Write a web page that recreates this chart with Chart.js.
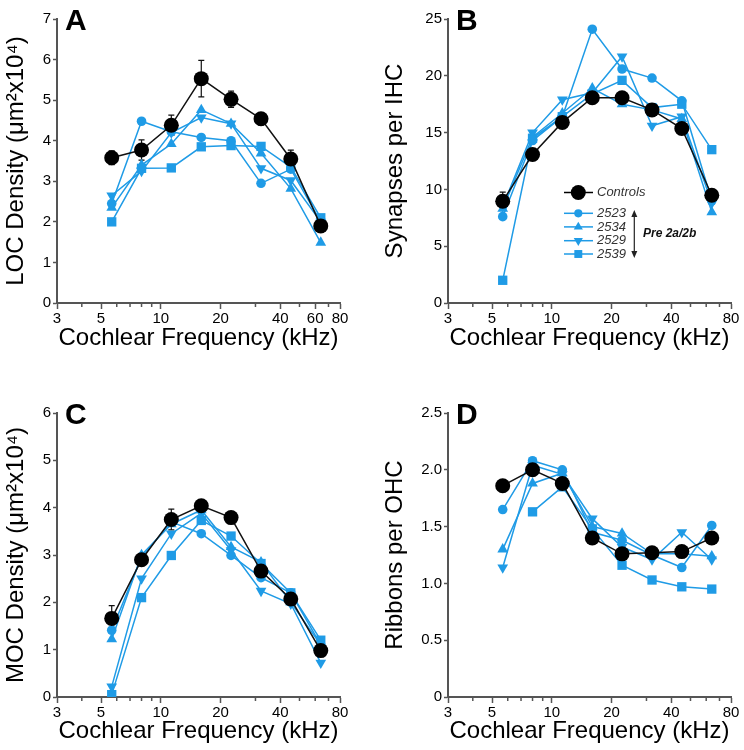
<!DOCTYPE html>
<html>
<head>
<meta charset="utf-8">
<script src="https://cdn.jsdelivr.net/npm/chart.js@4"></script>
<style>
  body { margin: 0; background: #fff; }
  canvas { position: absolute; }
</style>
</head>
<body>
<canvas id="chartA" width="372" height="375" style="left:0;top:0"></canvas>
<canvas id="chartB" width="372" height="375" style="left:372px;top:0"></canvas>
<canvas id="chartC" width="372" height="375" style="left:0;top:375px"></canvas>
<canvas id="chartD" width="372" height="375" style="left:372px;top:375px"></canvas>
<script>
// cochlear frequencies (kHz), half-octave steps
const freqs = [5.66, 8, 11.3, 16, 22.6, 32, 45.2, 64];
const animals = ['2523', '2534', '2529', '2539'];
const minorTicks = [4, 6, 7, 8, 9, 30, 50, 60, 70];

// A: LOC density
const locControls = [3.58, 3.77, 4.38, 5.53, 5.02, 4.54, 3.55, 1.9];
const locErr = [0.17, 0.25, 0.25, 0.45, 0.2, 0.15, 0.22, 0.1];
const loc2523 = [2.45, 4.48, 4.22, 4.08, 4.0, 2.95, 3.3, 2.0];
const loc2534 = [2.35, 3.4, 3.92, 4.76, 4.42, 3.69, 2.82, 1.49];
const loc2529 = [2.65, 3.25, 4.2, 4.57, 4.42, 3.32, 3.02, 2.0];
const loc2539 = [2.0, 3.32, 3.33, 3.85, 3.88, 3.86, 3.35, 2.1];

// B: synapses per IHC
const synControls = [8.96, 13.07, 15.9, 18.07, 18.07, 17.0, 15.36, 9.49];
const synErr = [0.8, 0.3, 0.3, 0.3, 0.3, 0.3, 0.3, 0.3];
const syn2523 = [7.6, 14.3, 16.4, 24.1, 20.6, 19.8, 17.8, 9.0];
const syn2534 = [8.3, 14.6, 16.7, 18.9, 17.5, 17.0, 16.2, 8.0];
const syn2529 = [8.5, 15.0, 17.9, 18.5, 21.7, 15.6, 16.4, 8.8];
const syn2539 = [2.0, 14.5, 16.4, 18.4, 19.6, 17.2, 17.5, 13.5];

// C: MOC density
const mocControls = [1.66, 2.9, 3.75, 4.04, 3.79, 2.66, 2.07, 0.98];
const mocErr = [0.27, 0.1, 0.22, 0.1, 0.1, 0.1, 0.1, 0.1];
const moc2523 = [1.41, 2.95, 3.7, 3.45, 2.99, 2.52, 2.2, 1.1];
const moc2534 = [1.22, 3.0, 3.65, 3.95, 3.17, 2.85, 2.0, 1.1];
const moc2529 = [0.22, 2.5, 3.45, 3.88, 3.1, 2.24, 1.97, 0.72];
const moc2539 = [0.05, 2.1, 2.99, 3.73, 3.4, 2.82, 2.2, 1.2];

// D: ribbons per OHC
const ribControls = [1.86, 2.0, 1.88, 1.4, 1.26, 1.27, 1.28, 1.4];
const ribErr = [0, 0, 0, 0, 0, 0, 0, 0];
const rib2523 = [1.65, 2.08, 2.0, 1.45, 1.38, 1.25, 1.14, 1.51];
const rib2534 = [1.30, 1.88, 1.97, 1.5, 1.44, 1.26, 1.26, 1.24];
const rib2529 = [1.14, 2.04, 1.96, 1.57, 1.32, 1.21, 1.45, 1.21];
const rib2539 = [null, 1.63, 1.85, 1.48, 1.16, 1.03, 0.97, 0.95];

const BLUE = '#1f9be6';
const FONT = "'Liberation Sans', Arial, Helvetica, sans-serif";
Chart.defaults.font.family = FONT;

const markers = [
  { pointStyle: 'circle', radius: 4.8, rotation: 0 },
  { pointStyle: 'triangle', radius: 6.2, rotation: 0 },
  { pointStyle: 'triangle', radius: 6.2, rotation: 180 },
  { pointStyle: 'rect', radius: 6.6, rotation: 0 }
];

const pts = arr => freqs.map((f, i) => ({ x: f, y: arr[i] }));

const extras = {
  id: 'extras',
  beforeDatasetsDraw(chart, args, o) {
    const { ctx, scales: { x, y } } = chart;
    ctx.save();
    ctx.strokeStyle = '#111';
    ctx.lineWidth = 1.2;
    o.err.forEach((e, i) => {
      if (!e) return;
      const px = x.getPixelForValue(freqs[i]);
      const top = y.getPixelForValue(o.controls[i] + e);
      const bot = y.getPixelForValue(o.controls[i] - e);
      ctx.beginPath();
      ctx.moveTo(px, top); ctx.lineTo(px, bot);
      ctx.moveTo(px - 3, top); ctx.lineTo(px + 3, top);
      ctx.moveTo(px - 3, bot); ctx.lineTo(px + 3, bot);
      ctx.stroke();
    });
    ctx.restore();
  },
  afterDraw(chart, args, o) {
    const { ctx, scales: { x } } = chart;
    ctx.save();
    // minor log ticks
    ctx.strokeStyle = '#555';
    ctx.lineWidth = 1.5;
    minorTicks.filter(v => !o.xTicks.includes(v)).forEach(v => {
      const px = x.getPixelForValue(v);
      ctx.beginPath();
      ctx.moveTo(px, x.top);
      ctx.lineTo(px, x.top + 4);
      ctx.stroke();
    });
    // panel letter
    ctx.fillStyle = '#000';
    ctx.font = 'bold 30px ' + FONT;
    ctx.textBaseline = 'alphabetic';
    ctx.fillText(o.letter, chart.chartArea.left + 8, chart.chartArea.top + 11);
    if (o.legend) drawLegend(ctx);
    ctx.restore();
  }
};

function drawLegend(ctx) {
  const x0 = 192, x1 = 221, mx = 206.3, tx = 225;
  ctx.lineWidth = 1.5;
  ctx.textBaseline = 'middle';
  ctx.font = 'italic 13px ' + FONT;
  // controls
  ctx.strokeStyle = '#000';
  ctx.fillStyle = '#000';
  ctx.beginPath(); ctx.moveTo(x0, 192.5); ctx.lineTo(x1, 192.5); ctx.stroke();
  Chart.helpers.drawPoint(ctx, { pointStyle: 'circle', radius: 7.5, rotation: 0, borderWidth: 0 }, mx, 192.5);
  ctx.fillStyle = '#333';
  ctx.fillText('Controls', tx, 192.5);
  const ys = [213.3, 226.9, 240.7, 254];
  animals.forEach((a, i) => {
    ctx.strokeStyle = BLUE;
    ctx.fillStyle = BLUE;
    ctx.beginPath(); ctx.moveTo(x0, ys[i]); ctx.lineTo(x1, ys[i]); ctx.stroke();
    Chart.helpers.drawPoint(ctx, { pointStyle: markers[i].pointStyle, radius: markers[i].radius * 0.85, rotation: markers[i].rotation, borderWidth: 0 }, mx, ys[i]);
    ctx.fillStyle = '#333';
    ctx.fillText(a, tx, ys[i]);
  });
  // double arrow
  const ax = 262.3, ay0 = 210, ay1 = 258;
  ctx.strokeStyle = '#222';
  ctx.fillStyle = '#222';
  ctx.lineWidth = 1.2;
  ctx.beginPath(); ctx.moveTo(ax, ay0 + 5); ctx.lineTo(ax, ay1 - 5); ctx.stroke();
  ctx.beginPath(); ctx.moveTo(ax, ay0); ctx.lineTo(ax - 3, ay0 + 7); ctx.lineTo(ax + 3, ay0 + 7); ctx.closePath(); ctx.fill();
  ctx.beginPath(); ctx.moveTo(ax, ay1); ctx.lineTo(ax - 3, ay1 - 7); ctx.lineTo(ax + 3, ay1 - 7); ctx.closePath(); ctx.fill();
  ctx.fillStyle = '#111';
  ctx.font = 'italic bold 12px ' + FONT;
  ctx.fillText('Pre 2a/2b', 271, 233.5);
}

function makePanel(id, cfg) {
  const datasets = [{
    label: 'Controls',
    data: pts(cfg.controls),
    borderColor: '#111',
    backgroundColor: '#000',
    borderWidth: 1.5,
    pointStyle: 'circle',
    pointRadius: 7.5,
    pointBorderWidth: 0
  }];
  cfg.series.forEach((s, i) => datasets.push({
    label: animals[i],
    data: pts(s),
    borderColor: BLUE,
    backgroundColor: BLUE,
    borderWidth: 1.5,
    pointStyle: markers[i].pointStyle,
    pointRadius: markers[i].radius,
    pointRotation: markers[i].rotation,
    pointBorderWidth: 0,
    spanGaps: false
  }));

  new Chart(document.getElementById(id), {
    type: 'line',
    data: { datasets },
    options: {
      responsive: false,
      animation: false,
      devicePixelRatio: 1,
      layout: { padding: { left: 0, right: 372 - cfg.right, top: cfg.top, bottom: 0 } },
      plugins: {
        legend: { display: false },
        tooltip: { enabled: false },
        extras: { err: cfg.err, controls: cfg.controls, xTicks: cfg.xTicks, letter: cfg.letter, legend: cfg.legend }
      },
      scales: {
        x: {
          type: 'logarithmic',
          min: 3,
          max: 80,
          afterBuildTicks: s => { s.ticks = cfg.xTicks.map(v => ({ value: v })); },
          afterFit: s => { s.height = 375 - cfg.bottom; },
          ticks: { autoSkip: false, maxRotation: 0, padding: 1, color: '#000', font: { size: 15 }, callback: v => String(v) },
          grid: { drawOnChartArea: false, tickLength: 6, tickColor: '#555', tickWidth: 1.5 },
          border: { color: '#555', width: 2 },
          title: { display: true, text: 'Cochlear Frequency (kHz)', color: '#000', font: { size: 24 }, padding: { top: 0, bottom: cfg.xTitlePad } }
        },
        y: {
          min: 0,
          max: cfg.yMax,
          afterFit: s => { s.width = cfg.left; },
          ticks: { stepSize: cfg.yStep, padding: 2, color: '#000', font: { size: 15 }, callback: cfg.yFmt },
          grid: { drawOnChartArea: false, tickLength: 4, tickColor: '#555', tickWidth: 1.5 },
          border: { color: '#555', width: 2 },
          title: { display: true, text: cfg.yTitle, color: '#000', font: { size: 24 }, padding: { top: cfg.yTitlePad, bottom: 0 } }
        }
      }
    },
    plugins: [extras]
  });
}

const intFmt = v => String(v);

makePanel('chartA', {
  letter: 'A', controls: locControls, err: locErr, series: [loc2523, loc2534, loc2529, loc2539],
  left: 57, right: 340, top: 19, bottom: 303, xTitlePad: 22.5, yTitlePad: 1.5,
  xTicks: [3, 5, 10, 20, 40, 60, 80], yMax: 7, yStep: 1, yFmt: intFmt,
  yTitle: 'LOC Density (μm²x10⁴)'
});
makePanel('chartB', {
  letter: 'B', controls: synControls, err: synErr, series: [syn2523, syn2534, syn2529, syn2539],
  left: 76, right: 359, top: 19, bottom: 303, xTitlePad: 22.5, yTitlePad: 8.5,
  xTicks: [3, 5, 10, 20, 40, 80], yMax: 25, yStep: 5, yFmt: intFmt,
  yTitle: 'Synapses per IHC', legend: true
});
makePanel('chartC', {
  letter: 'C', controls: mocControls, err: mocErr, series: [moc2523, moc2534, moc2529, moc2539],
  left: 57, right: 340, top: 38, bottom: 322, xTitlePad: 4, yTitlePad: 1.5,
  xTicks: [3, 5, 10, 20, 40, 80], yMax: 6, yStep: 1, yFmt: intFmt,
  yTitle: 'MOC Density (μm²x10⁴)'
});
makePanel('chartD', {
  letter: 'D', controls: ribControls, err: ribErr, series: [rib2523, rib2534, rib2529, rib2539],
  left: 76, right: 359, top: 38, bottom: 322, xTitlePad: 4, yTitlePad: 8.5,
  xTicks: [3, 5, 10, 20, 40, 80], yMax: 2.5, yStep: 0.5, yFmt: v => (v === 0 ? '0' : v.toFixed(1)),
  yTitle: 'Ribbons per OHC'
});
</script>
</body>
</html>
